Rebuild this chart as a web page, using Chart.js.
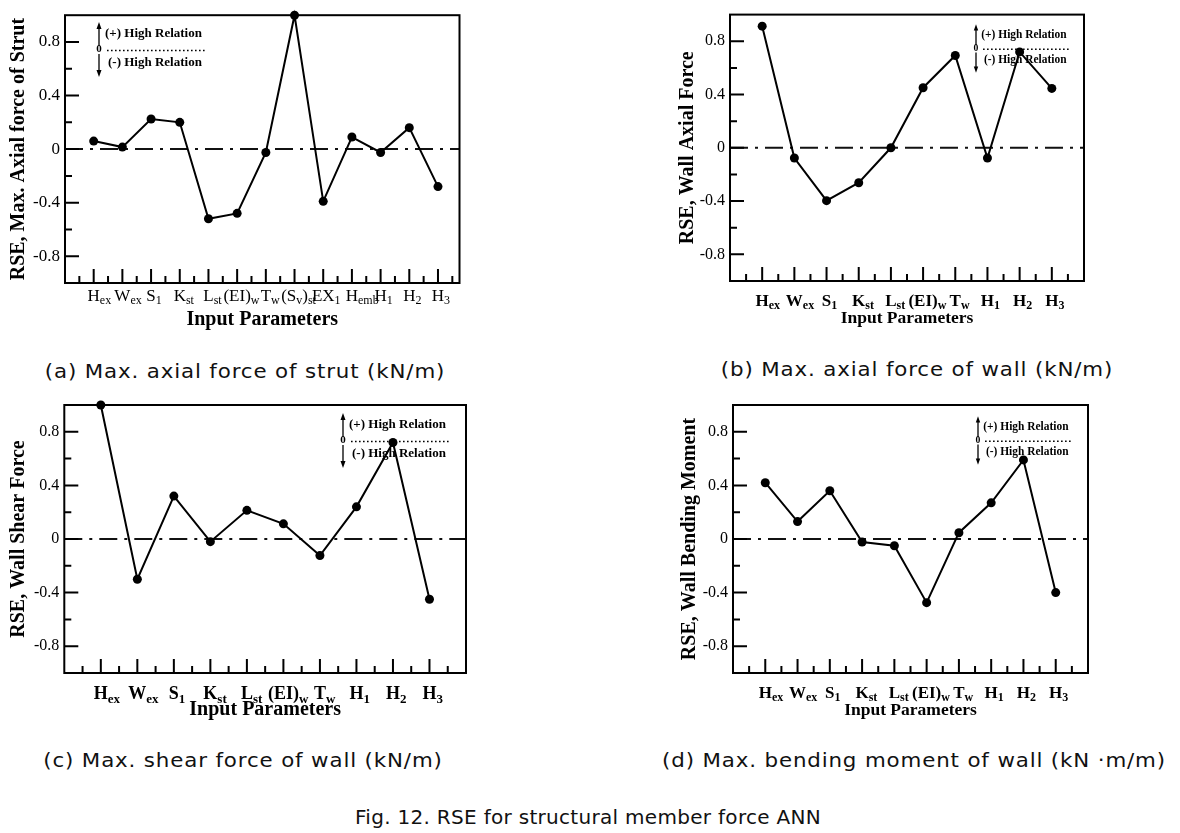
<!DOCTYPE html>
<html>
<head>
<meta charset="utf-8">
<script src="https://cdn.jsdelivr.net/npm/chart.js@4.4.1/dist/chart.umd.min.js"></script>
<style>
  body { margin: 0; background: #fff; width: 1180px; height: 833px; position: relative; overflow: hidden; }
  canvas { position: absolute; }
  .cap { position: absolute; font-family: "DejaVu Sans"; font-size: 20px; letter-spacing: 0.8px; color: #111;
         white-space: nowrap; transform: translate(-50%, -50%) scaleX(1.068); }
  .fig { letter-spacing: 0.3px; transform: translate(-50%, -50%); }
</style>
</head>
<body>
<canvas id="cA" width="480" height="340" style="left:0;top:0"></canvas>
<canvas id="cB" width="480" height="340" style="left:620px;top:0"></canvas>
<canvas id="cC" width="490" height="340" style="left:0;top:390px"></canvas>
<canvas id="cD" width="490" height="340" style="left:620px;top:390px"></canvas>

<div class="cap" style="left:245px;top:371px">(a) Max. axial force of strut (kN/m)</div>
<div class="cap" style="left:917px;top:369px">(b) Max. axial force of wall (kN/m)</div>
<div class="cap" style="left:243px;top:760px">(c) Max. shear force of wall (kN/m)</div>
<div class="cap" style="left:914px;top:760px">(d) Max. bending moment of wall (kN ·m/m)</div>
<div class="cap fig" style="left:588px;top:817px">Fig. 12. RSE for structural member force ANN</div>

<script>
// --- 데이터 ---
// 입력 변수 (아래첨자는 _{ } 로 표기)
const labelsStrut = ["H_{ex}", "W_{ex}", "S_{1}", "K_{st}", "L_{st}", "(EI)_{w}", "T_{w}",
                     "(S_{v})_{st}", "EX_{1}", "H_{emb}", "H_{1}", "H_{2}", "H_{3}"];
const labelsWall = ["H_{ex}", "W_{ex}", "S_{1}", "K_{st}", "L_{st}", "(EI)_{w}", "T_{w}",
                    "H_{1}", "H_{2}", "H_{3}"];

// RSE 값
const rseStrutAxial = [0.06, 0.015, 0.225, 0.20, -0.52, -0.48, -0.025, 1.0, -0.39, 0.09, -0.025, 0.16, -0.28];
const rseWallAxial  = [0.913, -0.077, -0.397, -0.262, 0.0, 0.451, 0.693, -0.077, 0.72, 0.446];
const rseWallShear  = [1.0, -0.30, 0.32, -0.02, 0.214, 0.113, -0.123, 0.24, 0.72, -0.45];
const rseWallMoment = [0.42, 0.13, 0.36, -0.022, -0.05, -0.475, 0.047, 0.27, 0.59, -0.40];

// y축 눈금 라벨
const yTickLabels = [-0.8, -0.4, 0, 0.4, 0.8];

const yTitles = ["RSE, Max. Axial force of Strut", "RSE, Wall Axial Force",
                 "RSE, Wall Shear Force", "RSE, Wall Bending Moment"];

const SERIF = "Liberation Serif";

// 패널 배치 (페이지 좌표)
const panels = [
  { id: "cA", left: 0, top: 0, w: 480, h: 340, area: { l: 65, t: 15, r: 459.5, b: 283 }, xMax: 13.75,
    labels: labelsStrut, values: rseStrutAxial, yTitle: yTitles[0], titleX: 19,
    xTitleY: 320, xTitleSize: 20, tickBold: false, tickSize: 17, labelY: 295, yTickSize: 17,
    legend: { x: 99, y: 49, s: 1 } },
  { id: "cB", left: 620, top: 0, w: 480, h: 340, area: { l: 730, t: 13, r: 1084, b: 281 }, xMax: 11,
    labels: labelsWall, values: rseWallAxial, yTitle: yTitles[1], titleX: 688,
    xTitleY: 318, xTitleSize: 17.5, tickBold: true, tickSize: 17, labelY: 300, yTickSize: 16,
    legend: { x: 976, y: 48, s: 0.88 } },
  { id: "cC", left: 0, top: 390, w: 490, h: 340, area: { l: 64.3, t: 405, r: 466, b: 673 }, xMax: 11,
    labels: labelsWall, values: rseWallShear, yTitle: yTitles[2], titleX: 18.5,
    xTitleY: 710, xTitleSize: 20, tickBold: true, tickSize: 18, labelY: 693, yTickSize: 16,
    legend: { x: 343, y: 440, s: 1 } },
  { id: "cD", left: 620, top: 390, w: 490, h: 340, area: { l: 733, t: 405, r: 1088, b: 673 }, xMax: 11,
    labels: labelsWall, values: rseWallMoment, yTitle: yTitles[3], titleX: 690,
    xTitleY: 710, xTitleSize: 17.5, tickBold: true, tickSize: 17, labelY: 692, yTickSize: 16,
    legend: { x: 978, y: 440, s: 0.88 } },
];

// "H_{ex}" -> [["H", false], ["ex", true]]
function splitLabel(lbl) {
  const out = [];
  const re = /_\{([^}]*)\}/g;
  let last = 0, m;
  while ((m = re.exec(lbl))) {
    if (m.index > last) out.push([lbl.slice(last, m.index), false]);
    out.push([m[1], true]);
    last = re.lastIndex;
  }
  if (last < lbl.length) out.push([lbl.slice(last), false]);
  return out;
}

// 테두리, 안쪽 눈금, 아래첨자 라벨, 범례 그리기
const decorPlugin = {
  id: "decor",
  afterDraw(chart) {
    const p = chart.options.plugins.decor;
    const { ctx, chartArea: a, scales: { x, y } } = chart;
    ctx.save();
    ctx.strokeStyle = "#000";
    ctx.fillStyle = "#000";

    // 테두리
    ctx.lineWidth = 2;
    ctx.strokeRect(a.left, a.top, a.right - a.left, a.bottom - a.top);

    // y 눈금 (안쪽)
    ctx.beginPath();
    y.ticks.forEach(t => {
      if (Math.abs(t.value) > 0.99) return;
      const major = yTickLabels.includes(Math.round(t.value * 10) / 10);
      const py = y.getPixelForValue(t.value);
      ctx.moveTo(a.left, py);
      ctx.lineTo(a.left + (major ? 14 : 7), py);
    });
    // x 눈금 (안쪽)
    for (let k = 1; k / 2 < p.xMax - 0.01; k++) {
      const v = k / 2;
      const px = x.getPixelForValue(v);
      ctx.moveTo(px, a.bottom);
      ctx.lineTo(px, a.bottom - (k % 2 === 0 ? 14 : 7));
    }
    ctx.stroke();

    // x 라벨 (아래첨자 포함)
    const f = p.tickSize, fs = Math.round(f * 0.72);
    const w = p.tickBold ? "bold " : "";
    const mainFont = w + f + "px " + SERIF;
    const subFont = w + fs + "px " + SERIF;
    const base = p.labelY + f * 0.33;
    ctx.textBaseline = "alphabetic";
    ctx.textAlign = "left";
    p.labels.forEach((lbl, i) => {
      const parts = splitLabel(lbl);
      const widths = parts.map(([s, sub]) => { ctx.font = sub ? subFont : mainFont; return ctx.measureText(s).width; });
      let cw = widths.reduce((s, v) => s + v, 0);
      if (parts[parts.length - 1][1]) cw -= widths[widths.length - 1];
      let cx = x.getPixelForValue(i + 1) - cw / 2;
      parts.forEach(([s, sub], j) => {
        ctx.font = sub ? subFont : mainFont;
        ctx.fillText(s, cx, sub ? base + f * 0.22 : base);
        cx += widths[j];
      });
    });

    // 범례 (+)/(-) High Relation
    const L = p.legend, s = L.s;
    ctx.font = "bold " + (13 * s) + "px " + SERIF;
    ctx.textBaseline = "middle";
    ctx.fillText("(+) High Relation", L.x + 6 * s, L.y - 15 * s);
    ctx.fillText("(-) High Relation", L.x + 9 * s, L.y + 14 * s);
    ctx.font = "bold " + (11 * s) + "px " + SERIF;
    ctx.textAlign = "center";
    ctx.fillText("0", L.x, L.y);
    ctx.lineWidth = 1.6;
    ctx.setLineDash([1.6, 2.4]);
    ctx.beginPath();
    ctx.moveTo(L.x + 8 * s, L.y + 1.5 * s);
    ctx.lineTo(L.x + 108 * s, L.y + 1.5 * s);
    ctx.stroke();
    ctx.setLineDash([]);
    ctx.lineWidth = 1.3;
    ctx.beginPath();
    ctx.moveTo(L.x, L.y - 3 * s); ctx.lineTo(L.x, L.y - 22 * s);
    ctx.moveTo(L.x, L.y + 5 * s); ctx.lineTo(L.x, L.y + 23 * s);
    ctx.stroke();
    ctx.beginPath();
    ctx.moveTo(L.x, L.y - 27 * s); ctx.lineTo(L.x - 2.5 * s, L.y - 20 * s); ctx.lineTo(L.x + 2.5 * s, L.y - 20 * s);
    ctx.closePath();
    ctx.moveTo(L.x, L.y + 28 * s); ctx.lineTo(L.x - 2.5 * s, L.y + 21 * s); ctx.lineTo(L.x + 2.5 * s, L.y + 21 * s);
    ctx.closePath();
    ctx.fill();
    ctx.restore();
  }
};

function drawPanel(P) {
  const canvas = document.getElementById(P.id);
  const a = P.area;
  // 기준 위치를 캔버스 좌표로
  const leg = { x: P.legend.x - P.left, y: P.legend.y - P.top, s: P.legend.s };

  new Chart(canvas, {
    type: "line",
    data: {
      datasets: [
        {
          data: P.values.map((v, i) => ({ x: i + 1, y: v })),
          borderColor: "#000",
          backgroundColor: "#000",
          borderWidth: 2,
          pointRadius: 4.5,
          pointBorderWidth: 0,
          tension: 0,
          clip: false
        },
        {
          // 0 기준선 (일점쇄선)
          data: [{ x: 0, y: 0 }, { x: P.xMax, y: 0 }],
          borderColor: "#111",
          borderWidth: 2,
          borderDash: [18, 7, 3, 7],
          pointRadius: 0
        }
      ]
    },
    options: {
      responsive: false,
      animation: false,
      events: [],
      layout: { padding: { left: 0, top: a.t - P.top, right: P.left + P.w - a.r, bottom: 0 } },
      plugins: {
        legend: { display: false },
        tooltip: { enabled: false },
        decor: { xMax: P.xMax, labels: P.labels, tickBold: P.tickBold, tickSize: P.tickSize,
                 labelY: P.labelY - P.top, legend: leg }
      },
      scales: {
        x: {
          type: "linear",
          min: 0,
          max: P.xMax,
          grid: { display: false, drawTicks: false },
          border: { display: false },
          ticks: { display: false, stepSize: 0.5 },
          title: {
            display: true,
            text: "Input Parameters",
            color: "#000",
            font: { family: SERIF, weight: "bold", size: P.xTitleSize },
            padding: { top: 0, bottom: (P.top + P.h - P.xTitleY) - P.xTitleSize * 0.6 }
          },
          afterFit(s) { s.height = P.top + P.h - a.b; }
        },
        y: {
          min: -1,
          max: 1,
          grid: { display: false, drawTicks: false },
          border: { display: false },
          ticks: {
            stepSize: 0.2,
            padding: 5,
            color: "#000",
            font: { family: SERIF, size: P.yTickSize },
            callback: v => {
              const r = Math.round(v * 10) / 10;
              return yTickLabels.includes(r) ? String(r) : "";
            }
          },
          title: {
            display: true,
            text: P.yTitle,
            color: "#000",
            font: { family: SERIF, weight: "bold", size: 20 },
            padding: { top: P.titleX - P.left - 12, bottom: 0 }
          },
          afterFit(s) { s.width = a.l - P.left; }
        }
      }
    },
    plugins: [decorPlugin]
  });
}

panels.forEach(drawPanel);
</script>
</body>
</html>
